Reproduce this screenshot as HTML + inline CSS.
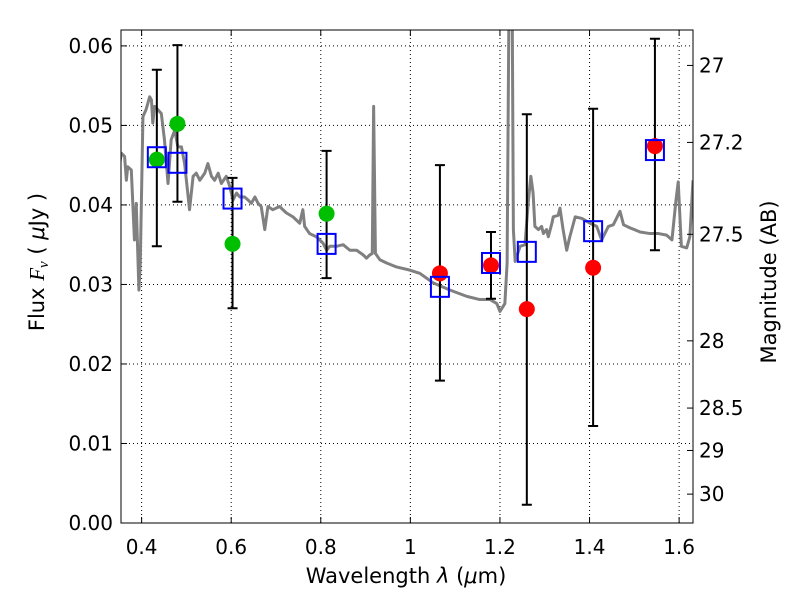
<!DOCTYPE html>
<html><head><meta charset="utf-8"><style>
body{margin:0;background:#fff}
svg text{font-family:"DejaVu Sans","Liberation Sans",sans-serif;fill:#000}
</style></head><body>
<svg id="chart" width="800" height="600" xmlns="http://www.w3.org/2000/svg">
<defs><clipPath id="clip"><rect x="121" y="30" width="572" height="493"/></clipPath></defs>
<rect width="800" height="600" fill="#fff"/>
<g id="grid"></g>
<g id="spec" clip-path="url(#clip)"></g>
<g id="marks" clip-path="url(#clip)"></g>
<rect x="121" y="30" width="572" height="493" fill="none" stroke="#000" stroke-width="1"/>
<g id="axes"></g>
<text x="406" y="583" font-size="21" text-anchor="middle">Wavelength  <tspan font-style="italic">λ</tspan> (<tspan font-style="italic">μ</tspan>m)</text>
<text transform="translate(44,262) rotate(-90)" font-size="21" text-anchor="middle">Flux  <tspan font-style="italic" font-family="Liberation Serif">F<tspan font-size="15" dy="4">ν</tspan></tspan><tspan dy="-4">  ( </tspan><tspan font-style="italic">μ</tspan>Jy )</text>
<text transform="translate(776,282) rotate(-90)" font-size="21" text-anchor="middle">Magnitude (AB)</text>
</svg>
<script>
const specWave=[0.351,0.355,0.362,0.366,0.369,0.377,0.384,0.388,0.394,0.397,0.403,0.410,0.418,0.422,0.425,0.429,0.436,0.444,0.451,0.459,0.466,0.474,0.481,0.489,0.496,0.507,0.515,0.522,0.530,0.541,0.548,0.556,0.563,0.571,0.578,0.589,0.597,0.604,0.612,0.619,0.630,0.638,0.645,0.653,0.660,0.667,0.675,0.682,0.693,0.708,0.723,0.738,0.753,0.760,0.764,0.775,0.790,0.805,0.813,0.820,0.835,0.850,0.865,0.880,0.895,0.902,0.909,0.915,0.918,0.922,0.932,0.947,0.969,0.999,1.021,1.051,1.088,1.126,1.155,1.178,1.193,1.200,1.211,1.216,1.222,1.226,1.230,1.234,1.245,1.256,1.263,1.269,1.274,1.278,1.286,1.293,1.297,1.304,1.308,1.316,1.319,1.330,1.334,1.341,1.349,1.356,1.368,1.383,1.401,1.416,1.427,1.442,1.453,1.468,1.476,1.491,1.513,1.535,1.554,1.572,1.584,1.593,1.598,1.605,1.617,1.624,1.631];
const specFlux=[0.0452,0.0465,0.0461,0.0431,0.0448,0.0444,0.0356,0.0402,0.0293,0.0327,0.0511,0.0520,0.0536,0.0532,0.0503,0.0524,0.0520,0.0515,0.0482,0.0427,0.0482,0.0494,0.0473,0.0473,0.0452,0.0394,0.0436,0.0440,0.0431,0.0440,0.0452,0.0436,0.0431,0.0440,0.0427,0.0436,0.0423,0.0406,0.0415,0.0410,0.0410,0.0406,0.0402,0.0410,0.0402,0.0398,0.0369,0.0398,0.0394,0.0398,0.0390,0.0385,0.0377,0.0394,0.0373,0.0364,0.0360,0.0352,0.0343,0.0348,0.0348,0.0350,0.0343,0.0343,0.0337,0.0333,0.0337,0.0339,0.0524,0.0339,0.0331,0.0327,0.0322,0.0318,0.0314,0.0302,0.0293,0.0285,0.0281,0.0281,0.0276,0.0266,0.0276,0.0327,0.08,0.08,0.0369,0.0329,0.0348,0.0350,0.0402,0.0436,0.0415,0.0373,0.0369,0.0373,0.0364,0.0369,0.0360,0.0377,0.0385,0.0387,0.0396,0.0369,0.0343,0.0360,0.0385,0.0383,0.0377,0.0373,0.0356,0.0373,0.0375,0.0392,0.0375,0.0371,0.0366,0.0364,0.0364,0.0362,0.0356,0.0406,0.0429,0.0348,0.0346,0.0360,0.0431];
const greenWave=[0.434,0.480,0.603,0.813];
const greenFlux=[0.0457,0.0502,0.0351,0.0389];
const redWave=[1.066,1.180,1.260,1.408,1.546];
const redFlux=[0.0314,0.0324,0.0269,0.0321,0.0474];
const errWave=[0.434,0.480,0.603,0.813,1.066,1.180,1.260,1.408,1.546];
const errHigh=[0.0570,0.0601,0.0434,0.0468,0.0450,0.0366,0.0514,0.0521,0.0609];
const errLow=[0.0348,0.0404,0.0270,0.0308,0.0179,0.0282,0.0023,0.0122,0.0343];
const modelWave=[0.434,0.480,0.603,0.813,1.066,1.180,1.260,1.408,1.546];
const modelFlux=[0.0460,0.0453,0.0408,0.0351,0.0297,0.0327,0.0341,0.0367,0.0469];
const xTicks=[0.4,0.6,0.8,1.0,1.2,1.4,1.6];
const xTickLabels=["0.4","0.6","0.8","1","1.2","1.4","1.6"];
const yTicks=[0,0.01,0.02,0.03,0.04,0.05,0.06];
const yTickLabels=["0.00","0.01","0.02","0.03","0.04","0.05","0.06"];
const magTicks=[27,27.2,27.5,28,28.5,29,30];
const magTickLabels=["27","27.2","27.5","28","28.5","29","30"];

const X0=121,X1=693,Y0=523,Y1=30,xmin=0.354,xmax=1.631,ymin=0,ymax=0.062;
const sx=v=>X0+(v-xmin)/(xmax-xmin)*(X1-X0);
const sy=v=>Y0-(v-ymin)/(ymax-ymin)*(Y0-Y1);
const magToFlux=m=>Math.pow(10,(23.9-m)/2.5);
const NS="http://www.w3.org/2000/svg";
function mk(tag,attrs,parent){const e=document.createElementNS(NS,tag);for(const k in attrs)e.setAttribute(k,attrs[k]);parent.appendChild(e);return e;}
const grid=document.getElementById('grid'),axes=document.getElementById('axes'),spec=document.getElementById('spec'),marks=document.getElementById('marks');

xTicks.forEach((t,i)=>{const x=sx(t);
 const g=mk('line',{x1:x,x2:x,y1:Y1,y2:Y0,stroke:'#000','stroke-dasharray':'1,3','stroke-width':1},grid);
 
 
 mk('line',{x1:x,x2:x,y1:Y0,y2:Y0-6,stroke:'#000'},axes);
 mk('line',{x1:x,x2:x,y1:Y1,y2:Y1+6,stroke:'#000'},axes);
 const tx=mk('text',{x:x,y:554,'font-size':20,'text-anchor':'middle'},axes);tx.textContent=xTickLabels[i];
 
 
});
yTicks.forEach((t,i)=>{const y=sy(t);
 const g=mk('line',{x1:X0,x2:X1,y1:y,y2:y,stroke:'#000','stroke-dasharray':'1,3','stroke-width':1},grid);
 
 
 mk('line',{x1:X0,x2:X0+6,y1:y,y2:y,stroke:'#000'},axes);
 const tx=mk('text',{x:113,y:y+7,'font-size':20,'text-anchor':'end'},axes);tx.textContent=yTickLabels[i];
 
 
});
magTicks.forEach((m,i)=>{const y=sy(magToFlux(m));
 mk('line',{x1:X1,x2:X1-6,y1:y,y2:y,stroke:'#000'},axes);
 const tx=mk('text',{x:699,y:y+7,'font-size':20,'text-anchor':'start'},axes);tx.textContent=magTickLabels[i];
 
 
});
const pl=mk('polyline',{points:specWave.map((w,i)=>sx(w)+','+sy(specFlux[i])).join(' '),fill:'none',stroke:'#808080','stroke-width':3,'stroke-linejoin':'round'},spec);


errWave.forEach((w,i)=>{const x=sx(w),a=sy(errHigh[i]),b=sy(errLow[i]);
 const l=mk('path',{d:`M${x},${a}V${b}M${x-5},${a}H${x+5}M${x-5},${b}H${x+5}`,stroke:'#000','stroke-width':2,fill:'none'},marks);
 
 
});
greenWave.forEach((w,i)=>{const c=mk('circle',{cx:sx(w),cy:sy(greenFlux[i]),r:8,fill:'#00bf00'},marks);
 
 });
redWave.forEach((w,i)=>{const c=mk('circle',{cx:sx(w),cy:sy(redFlux[i]),r:8,fill:'#ff0000'},marks);
 
 });
modelWave.forEach((w,i)=>{const r=mk('rect',{x:sx(w)-9,y:sy(modelFlux[i])-10,width:18,height:20,fill:'none',stroke:'#0000ff','stroke-width':2},marks);
 
 });
</script>
</body></html>
